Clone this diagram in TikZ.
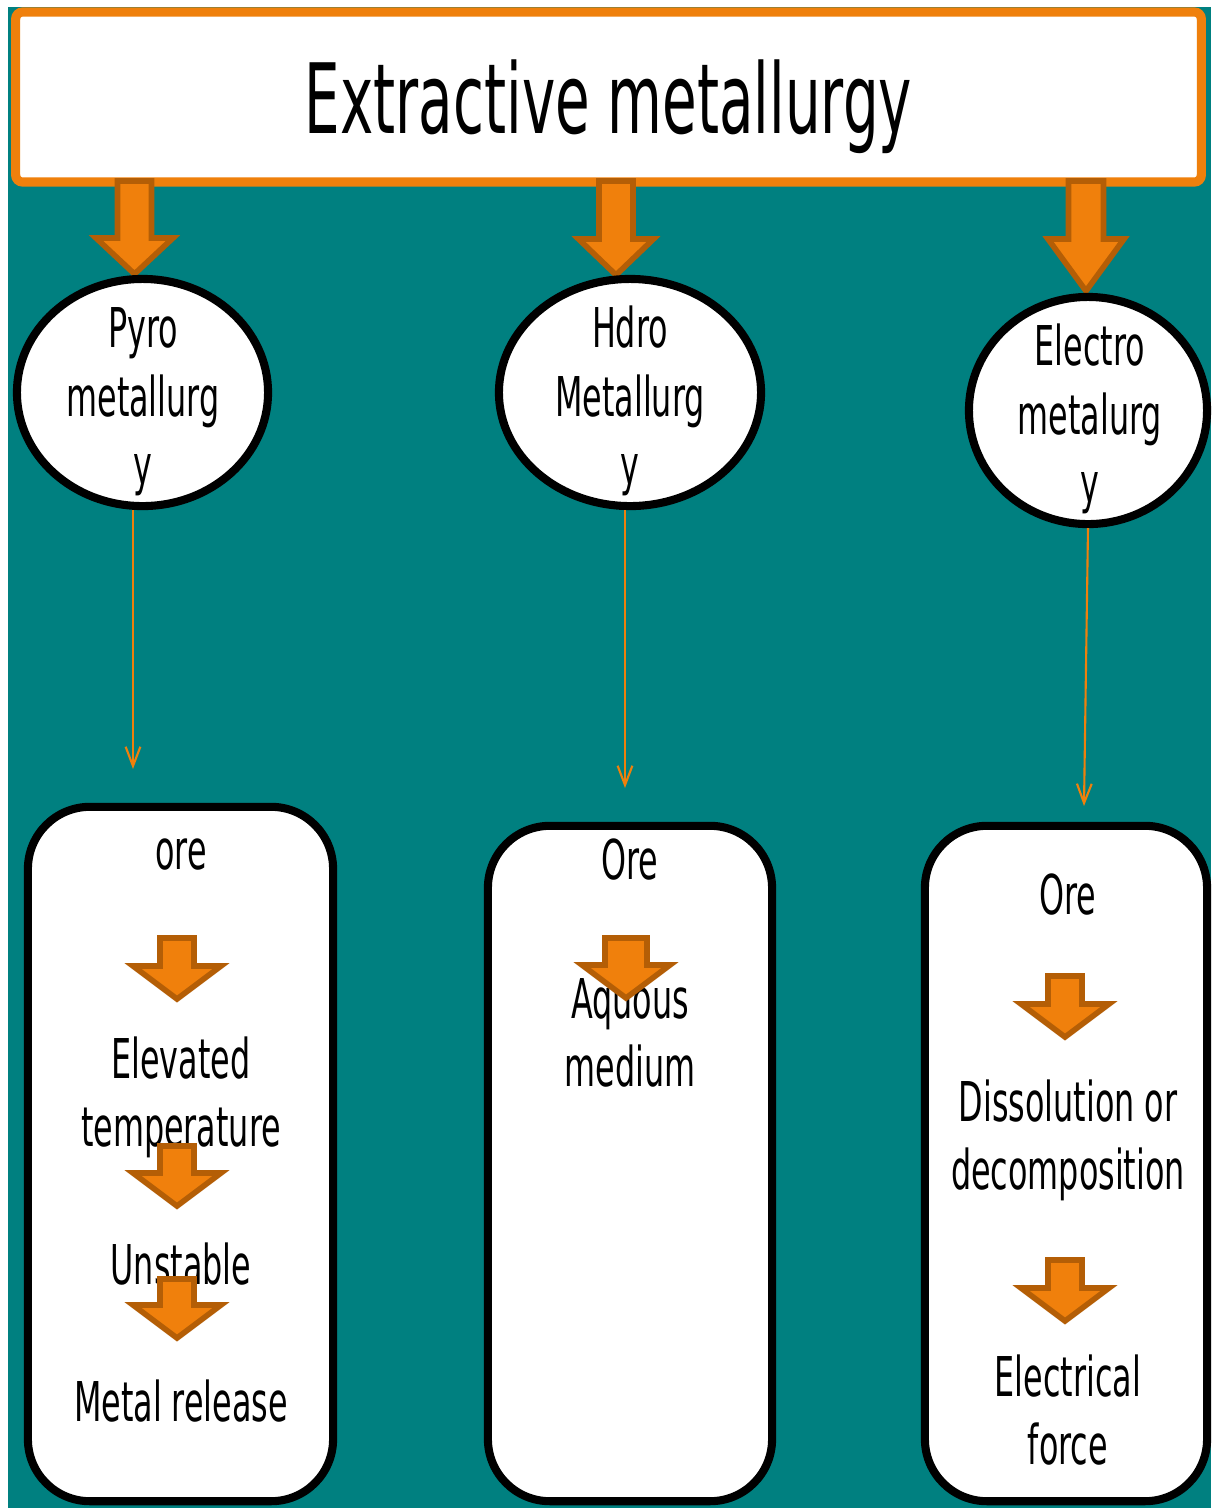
\documentclass[tikz,border=0pt]{standalone}
\usepackage{fontspec}
\setmainfont[FakeStretch=0.58]{DejaVu Sans}
\usepackage{tikz}
\usetikzlibrary{arrows.meta}
\usetikzlibrary{shapes.geometric}

\definecolor{slideteal}{RGB}{0,128,128}
\definecolor{titleorange}{RGB}{239,128,12}
\definecolor{arrowfill}{RGB}{240,128,12}
\definecolor{arrowedge}{RGB}{180,94,6}

\tikzset{blockarrow/.style={fill=arrowfill,draw=arrowedge,line width=1.6pt}}

% fat arrow pointing down: x, top, tip, half shaft, half head, head length
\newcommand{\fatdown}[6]{%
	\draw[blockarrow] (#1-#4,#2) -- (#1+#4,#2) -- (#1+#4,#3-#6) -- (#1+#5,#3-#6)
		-- (#1,#3) -- (#1-#5,#3-#6) -- (#1-#4,#3-#6) -- cycle;}

\begin{document}
\begin{tikzpicture}[x=0.01cm,y=-0.01cm]
	\useasboundingbox (0,0) rectangle (1211,1508);
	\fill[white] (0,0) rectangle (1211,1508);
	\fill[slideteal] (8,7) rectangle (1211,1508);

	\node[draw=titleorange,fill=white,line width=2.6pt,rounded corners=2pt,
	      minimum width=11.85cm,minimum height=1.7cm,text depth=0pt,
	      font=\fontsize{27.6}{32}\selectfont] (title) at (608.5,97) {Extractive metallurgy};

	\fatdown{134.5}{181}{274}{17}{38.5}{36}
	\fatdown{616}{181}{275}{17}{37.5}{36}
	\fatdown{1086}{181}{291}{17.5}{38}{52}

	\begin{scope}[every node/.style={ellipse,draw,fill=white,line width=2.3pt,inner sep=0pt}]
		\node[minimum width=2.51cm,minimum height=2.27cm] (pyro) at (142.5,392.5) {};
		\node[minimum width=2.62cm,minimum height=2.27cm] (hydro) at (630,392.5) {};
		\node[minimum width=2.38cm,minimum height=2.27cm] (electro) at (1088,410.5) {};
	\end{scope}

	\coordinate (pyroend) at (133,769);
	\coordinate (hydroend) at (625,788);
	\coordinate (electroend) at (1084,806);

	\begin{scope}[>={Straight Barb[length=5.5pt,width=4.2pt]},
	              every edge/.style={draw=titleorange,line width=0.6pt}]
		\path (pyro.south -| pyroend) edge[->] (pyroend);
		\path (hydro.south -| hydroend) edge[->] (hydroend);
		\path (electro.south) edge[->] (electroend);
	\end{scope}

	\begin{scope}[every node/.style={draw,fill=white,line width=2.3pt,rounded corners=0.62cm}]
		\node[minimum width=3.05cm,minimum height=6.94cm] (box1) at (180.5,1154) {};
		\node[minimum width=2.84cm,minimum height=6.75cm] (box2) at (630,1163.5) {};
		\node[minimum width=2.82cm,minimum height=6.75cm] (box3) at (1066,1163.5) {};
	\end{scope}

	\begin{scope}[every node/.style={align=center,inner sep=0pt,text depth=0pt,anchor=south,
	              font=\fontsize{15.6}{19.4}\selectfont}]
		\node (pyrotext) at (143,485) {Pyro\\metallurg\\y};
		\node (hydrotext) at (630,485) {Hdro\\Metallurg\\y};
		\node (electrotext) at (1090,503) {Electro\\metalurg\\y};
		\node (ore1) at (181,870) {ore};
		\node (heat) at (181,1147) {Elevated\\temperature};
		\node (unstable) at (181,1285) {Unstable};
		\node (release) at (181,1422) {Metal release};
		\node (ore2) at (630,880) {Ore};
		\node (aqueous) at (630,1087) {Aquous\\medium};
		\node (ore3) at (1068,915) {Ore};
		\node (dissolve) at (1068,1190) {Dissolution or\\decomposition};
		\node (force) at (1068,1465) {Electrical\\force};
	\end{scope}

	\fatdown{177}{938}{999}{17}{44}{33}
	\fatdown{177}{1146}{1206}{17}{44}{33}
	\fatdown{177}{1279}{1338}{17}{44}{33}
	\fatdown{626}{938}{998}{21}{44}{33}
	\fatdown{1065}{976}{1037}{17}{44}{33}
	\fatdown{1065}{1260}{1321}{17}{44}{33}
\end{tikzpicture}
\end{document}
